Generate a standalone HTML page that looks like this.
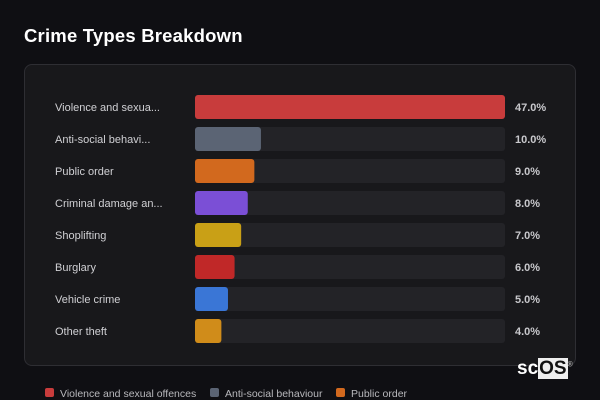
<!DOCTYPE html>
<html><head><meta charset="utf-8"><style>
body{margin:0;width:600px;height:400px;background:#0f0f13;font-family:"Liberation Sans",sans-serif;overflow:hidden;position:relative}
</style></head><body>
<div style="position:absolute;left:24px;top:25px;color:#fff;font-weight:bold;font-size:18.5px;letter-spacing:0.2px">Crime Types Breakdown</div>
<div style="position:absolute;left:24px;top:64px;width:550px;height:300px;background:#18181b;border:1px solid #2e2e33;border-radius:8px"></div>
<svg id="c" width="600" height="400" style="position:absolute;left:0;top:0"></svg>
<div style="position:absolute;left:517px;top:358px;font-size:19px;font-weight:bold;color:#fff;letter-spacing:0px">sc<span style="background:#eee;color:#111;padding:0 1px">OS</span><sup style="font-size:7px;color:#aaa">®</sup></div>
<script>
const categories=["Violence and sexua...","Anti-social behavi...","Public order","Criminal damage an...","Shoplifting","Burglary","Vehicle crime","Other theft"];
const values=[47,10,9,8,7,6,5,4];
const colors=["#c83c3c","#5b6474","#d2691e","#7b4fd6","#c9a016","#c02828","#3a76d6","#d08c1a"];
const legendLabels=["Violence and sexual offences","Anti-social behaviour","Public order"];
const svg=document.getElementById('c');const NS="http://www.w3.org/2000/svg";
const x0=195,W=310,maxV=Math.max(...values);
const xs=v=>v/maxV*W;const ys=i=>95+i*32;
function mk(t,a){const e=document.createElementNS(NS,t);for(const k in a)e.setAttribute(k,a[k]);svg.appendChild(e);return e;}
categories.forEach((c,i)=>{
 const tr=mk('rect',{x:x0,y:ys(i),width:W,height:24,rx:3,fill:'#232327'});
 
 
 const b=mk('rect',{x:x0,y:ys(i),width:xs(values[i]),height:24,rx:3,fill:colors[i]});
 
 
 const l=mk('text',{x:55,y:ys(i)+16,fill:'#d0d0d4','font-size':11,'font-family':'Liberation Sans, sans-serif'});l.textContent=c;
 
 
 const v=mk('text',{x:515,y:ys(i)+16,fill:'#c8c8cc','font-size':11,'font-weight':'bold','font-family':'Liberation Sans, sans-serif'});v.textContent=values[i].toFixed(1)+'%';
 
 
});
const lx=[45,210,336];
legendLabels.forEach((t,i)=>{
 const r=mk('rect',{x:lx[i],y:388,width:9,height:9,rx:2,fill:colors[i]});
 
 
 const tx=mk('text',{x:lx[i]+15,y:397,fill:'#b8b8bc','font-size':10.5,'font-family':'Liberation Sans, sans-serif'});tx.textContent=t;
 
 
});
</script>
</body></html>
